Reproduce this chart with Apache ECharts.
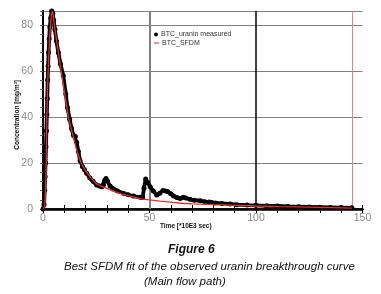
<!DOCTYPE html>
<html><head><meta charset="utf-8">
<script src="https://cdn.jsdelivr.net/npm/echarts@6/dist/echarts.min.js"></script>
<style>html,body{margin:0;padding:0;background:#fff}#c{width:381px;height:294px}</style>
</head><body><div id="c"></div>
<script>
// Measured uranin breakthrough (time in 10^3 s, concentration mg/m3)
var measT = [0, 0.5, 0.8, 1.0, 1.2, 1.4, 1.6, 1.8, 2.0, 2.2, 2.4, 2.6, 2.9, 3.2, 3.6, 4.1, 4.6, 5.0, 5.6, 6.3, 7.2, 8.2, 9.5, 10.7, 11.5, 12.5, 13.4, 14.3, 15.2, 15.8, 16.6, 17.4, 18.5, 19.5, 20.5, 22, 23.5, 25.2, 26.5, 27.6, 28.4, 29.0, 29.6, 30.3, 31.5, 33, 35, 37.8, 40, 42.5, 45.6, 46.8, 47.4, 48.2, 49.2, 50.3, 51.8, 53.4, 54.8, 56.3, 57.4, 58.5, 60, 61.3, 62.8, 64.4, 65.8, 67, 69, 71, 73.8, 76, 78, 79.3, 81, 84, 87.9, 91, 95.8, 100, 105, 110, 115, 120, 125, 130, 135, 140, 145];
var measC = [0, 2, 8, 14, 20, 27, 34, 41, 48, 56, 62, 68, 74, 79, 83, 86, 85, 82, 78, 73, 68, 63, 58, 50, 44, 39, 35, 32, 31.5, 29, 25, 21, 18.5, 17, 15.5, 13.5, 12, 10.4, 10, 9.7, 10.5, 12.5, 13.3, 12, 10, 8.8, 7.8, 6.8, 6.2, 5.6, 5.1, 5.0, 9, 13, 11.5, 9.7, 7.8, 6.1, 6.8, 8, 7.8, 7.6, 6.6, 5.6, 5, 4.6, 5.1, 4.8, 4.2, 3.8, 3.6, 3.2, 3.0, 2.8, 2.6, 2.4, 2.2, 1.9, 1.7, 1.6, 1.4, 1.3, 1.1, 1.0, 0.9, 0.8, 0.7, 0.6, 0.5];
// SFDM model fit
var fitT = [0, 0.8, 1.2, 1.5, 1.8, 2.1, 2.5, 3.0, 3.5, 4.0, 4.5, 5.3, 6.9, 8.5, 10.2, 11.9, 13.2, 14.6, 16, 17.9, 20, 22.5, 25, 27, 30, 33, 36, 40, 46, 50, 55, 61, 65, 70, 80, 88, 100, 111, 120, 130, 145];
var fitC = [0, 1, 8, 20, 40, 52, 62, 72, 80, 85, 86, 80, 70, 60, 50, 40, 35, 30, 25, 20, 16.5, 13.5, 11, 10, 9, 7.8, 6.8, 5.8, 4.4, 4.0, 3.4, 2.9, 2.5, 2.2, 1.9, 1.7, 1.3, 1.0, 0.9, 0.7, 0.4];
// reference lines (time)
var gridGrayX = [50];
var gridBlackX = [100];
var endMarkX = [145.4];
var seriesNames = ['BTC_uranin measured', 'BTC_SFDM'];
var xLabel = 'Time [*10E3 sec)';
var yLabel = 'Concentration [mg/m\u00b3]';
var captionTitle = 'Figure 6';
var captionLine1 = 'Best SFDM fit of the observed uranin breakthrough curve';
var captionLine2 = '(Main flow path)';

var meas = measT.map(function (t, i) { return [t, measC[i]]; });
var fit = fitT.map(function (t, i) { return [t, fitC[i]]; });
var lines = [];
gridGrayX.forEach(function (v) { lines.push({ xAxis: v, lineStyle: { color: '#808080', width: 2, type: 'solid' } }); });
gridBlackX.forEach(function (v) { lines.push({ xAxis: v, lineStyle: { color: '#000', width: 1.5, type: 'solid' } }); });
endMarkX.forEach(function (v) { lines.push({ xAxis: v, lineStyle: { color: '#f08080', width: 1, type: 'solid' } }); });

var tickFont = { color: '#8a8a8a', fontSize: 10.5, fontFamily: 'Liberation Sans Narrow, Liberation Sans, Arial' };
var chart = echarts.init(document.getElementById('c'), null, { renderer: 'canvas' });
chart.setOption({
  animation: false,
  backgroundColor: '#fff',
  grid: { left: 43, right: 18.5, top: 11, bottom: 85, containLabel: false },
  legend: [
    { data: [{ name: seriesNames[0], icon: 'circle' }], left: 154, top: 31, itemWidth: 4, itemHeight: 4, itemGap: 0,
      textStyle: { fontSize: 7, color: '#333', fontFamily: 'Liberation Sans, Arial', padding: [0, 0, 0, -2] }, padding: 0 },
    { data: [{ name: seriesNames[1], icon: 'rect' }], left: 154, top: 39.5, itemWidth: 5, itemHeight: 1, itemGap: 0,
      textStyle: { fontSize: 7, color: '#333', fontFamily: 'Liberation Sans, Arial', padding: [0, 0, 0, -2] }, padding: 0 }
  ],
  xAxis: [
    { type: 'value', min: 0, max: 150, interval: 50, position: 'bottom',
      axisLine: { show: true, lineStyle: { color: '#000', width: 2.5 } },
      axisTick: { show: true, inside: true, length: 4, lineStyle: { color: '#000' } },
      minorTick: { show: true, splitNumber: 5, length: 4, lineStyle: { color: '#000' } },
      axisLabel: Object.assign({ margin: 4 }, tickFont),
      splitLine: { show: false } },
    { type: 'value', min: 0, max: 150, interval: 50, position: 'top',
      axisLine: { show: true, lineStyle: { color: '#000', width: 1.5 } },
      axisTick: { show: true, inside: true, length: 4, lineStyle: { color: '#000' } },
      minorTick: { show: true, splitNumber: 5, length: 4, lineStyle: { color: '#000' } },
      axisLabel: { show: false }, splitLine: { show: false } }
  ],
  yAxis: [
    { type: 'value', min: 0, max: 86, interval: 20, position: 'left',
      axisLine: { show: true, lineStyle: { color: '#2a0a0a', width: 2 } },
      axisTick: { show: false },
      axisLabel: Object.assign({ margin: 10, showMaxLabel: false }, tickFont),
      splitLine: { show: true, lineStyle: { color: '#808080', width: 1 } } },
    { type: 'value', min: 0, max: 86, interval: 4, position: 'right',
      axisLine: { show: true, lineStyle: { color: '#000', width: 1.5 } },
      axisTick: { show: true, inside: true, length: 3, lineStyle: { color: '#666' } },
      axisLabel: { show: false }, splitLine: { show: false } }
  ],
  series: [
    { name: seriesNames[0], type: 'line', data: meas, xAxisIndex: 0, yAxisIndex: 0,
      symbol: 'circle', symbolSize: 5, showSymbol: true,
      itemStyle: { color: '#000' }, lineStyle: { color: '#000', width: 3.8 }, z: 2 },
    { name: seriesNames[1], type: 'line', data: fit, xAxisIndex: 0, yAxisIndex: 0,
      showSymbol: false, symbol: 'none',
      itemStyle: { color: '#e53030' }, lineStyle: { color: '#e53030', width: 1.3 }, z: 3,
      markLine: { silent: true, symbol: 'none', label: { show: false }, data: lines, z: 1 } }
  ],
  graphic: [
    { type: 'text', left: 14, top: 80, rotation: Math.PI / 2, silent: true,
      style: { text: yLabel, fontSize: 6.5, fontWeight: 'bold', fill: '#111', fontFamily: 'Liberation Sans, Arial' } },
    { type: 'text', left: 160, top: 223, silent: true,
      style: { text: xLabel, fontSize: 6.5, fontWeight: 'bold', fill: '#111', fontFamily: 'Liberation Sans, Arial' } },
    { type: 'text', left: 168, top: 244, silent: true,
      style: { text: captionTitle, fontSize: 12, fontWeight: 'bold', fontStyle: 'italic', fill: '#111', fontFamily: 'Liberation Sans, Arial' } },
    { type: 'text', left: 64, top: 261, silent: true,
      style: { text: captionLine1, fontSize: 11.5, fontStyle: 'italic', fill: '#111', fontFamily: 'Liberation Sans, Arial' } },
    { type: 'text', left: 144, top: 276, silent: true,
      style: { text: captionLine2, fontSize: 11.5, fontStyle: 'italic', fill: '#111', fontFamily: 'Liberation Sans, Arial' } }
  ]
});
</script></body></html>
